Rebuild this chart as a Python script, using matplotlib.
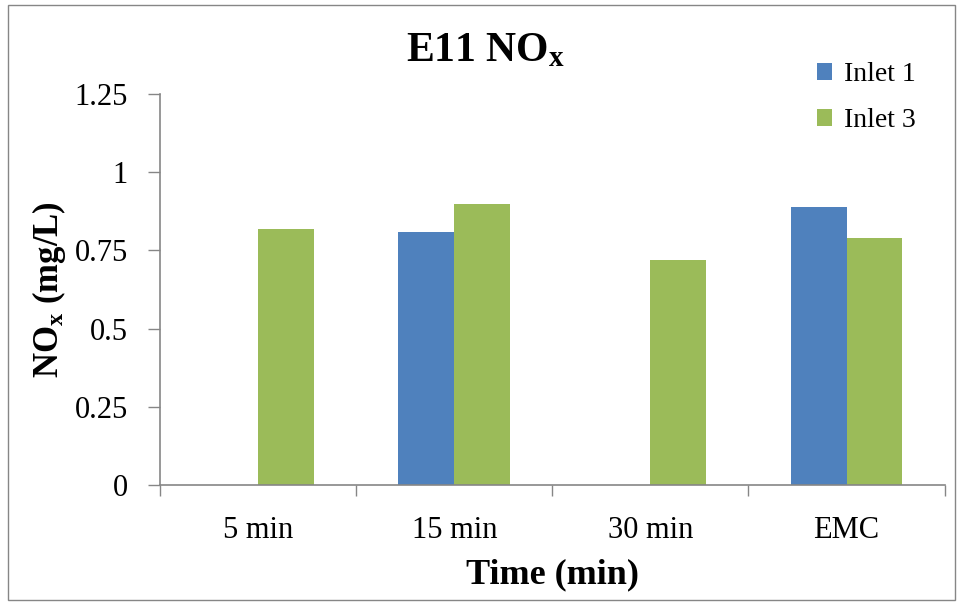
import matplotlib
matplotlib.use("Agg")
import matplotlib.pyplot as plt
import numpy as np
from matplotlib.patches import Rectangle

# data
categories = ["5 min", "15 min", "30 min", "EMC"]
inlet1 = [np.nan, 0.81, np.nan, 0.89]
inlet3 = [0.82, 0.90, 0.72, 0.79]
y_ticks = [0, 0.25, 0.5, 0.75, 1, 1.25]
y_tick_labels = ["0", "0.25", "0.5", "0.75", "1", "1.25"]

plt.rcParams["font.family"] = ["Liberation Serif", "DejaVu Serif"]
plt.rcParams["mathtext.default"] = "regular"

blue = "#4f81bd"
green = "#9bbb59"
axis_grey = "#868686"

fig = plt.figure(figsize=(9.61, 6.05), dpi=100)
ax = fig.add_axes([0.1665, 0.1983, 0.8165, 0.6463])

# outer chart border
fig.patches.append(Rectangle((0.008, 0.008), 0.986, 0.984, transform=fig.transFigure,
                             fill=False, edgecolor=axis_grey, linewidth=1.0))

x = np.arange(len(categories))
width = 0.285
ax.bar(x - width / 2, inlet1, width, color=blue, label="Inlet 1")
ax.bar(x + width / 2, inlet3, width, color=green, label="Inlet 3")

# axes look like Excel
ax.set_xlim(-0.5, len(categories) - 0.5)
ax.set_ylim(0, 1.25)
ax.set_yticks(y_ticks)
ax.set_yticklabels(y_tick_labels, fontsize=22)
ax.set_xticks(x)
ax.set_xticklabels(categories, fontsize=22)
ax.tick_params(axis="x", length=0, pad=22)
ax.set_xticks(np.arange(-0.5, len(categories)), minor=True)
ax.tick_params(axis="x", which="minor", length=8, color=axis_grey, width=1)
ax.tick_params(axis="y", length=9, color=axis_grey, width=1, pad=14)
for side in ["top", "right"]:
    ax.spines[side].set_visible(False)
for side in ["left", "bottom"]:
    ax.spines[side].set_color(axis_grey)
    ax.spines[side].set_linewidth(1.2)

ax.set_xlabel("Time (min)", fontsize=26, fontweight="bold", labelpad=10)
ax.set_ylabel("NO$_x$ (mg/L)", fontsize=25, fontweight="bold", labelpad=5)
fig.text(0.505, 0.915, "E11 NO$_x$", fontsize=30, fontweight="bold", ha="center", va="center")

ax.legend(loc="upper left", bbox_to_anchor=(0.805, 1.145), frameon=False, fontsize=20,
          handlelength=0.55, handleheight=0.55, handletextpad=0.45, labelspacing=0.75)

fig.savefig("out.png", dpi=100)
